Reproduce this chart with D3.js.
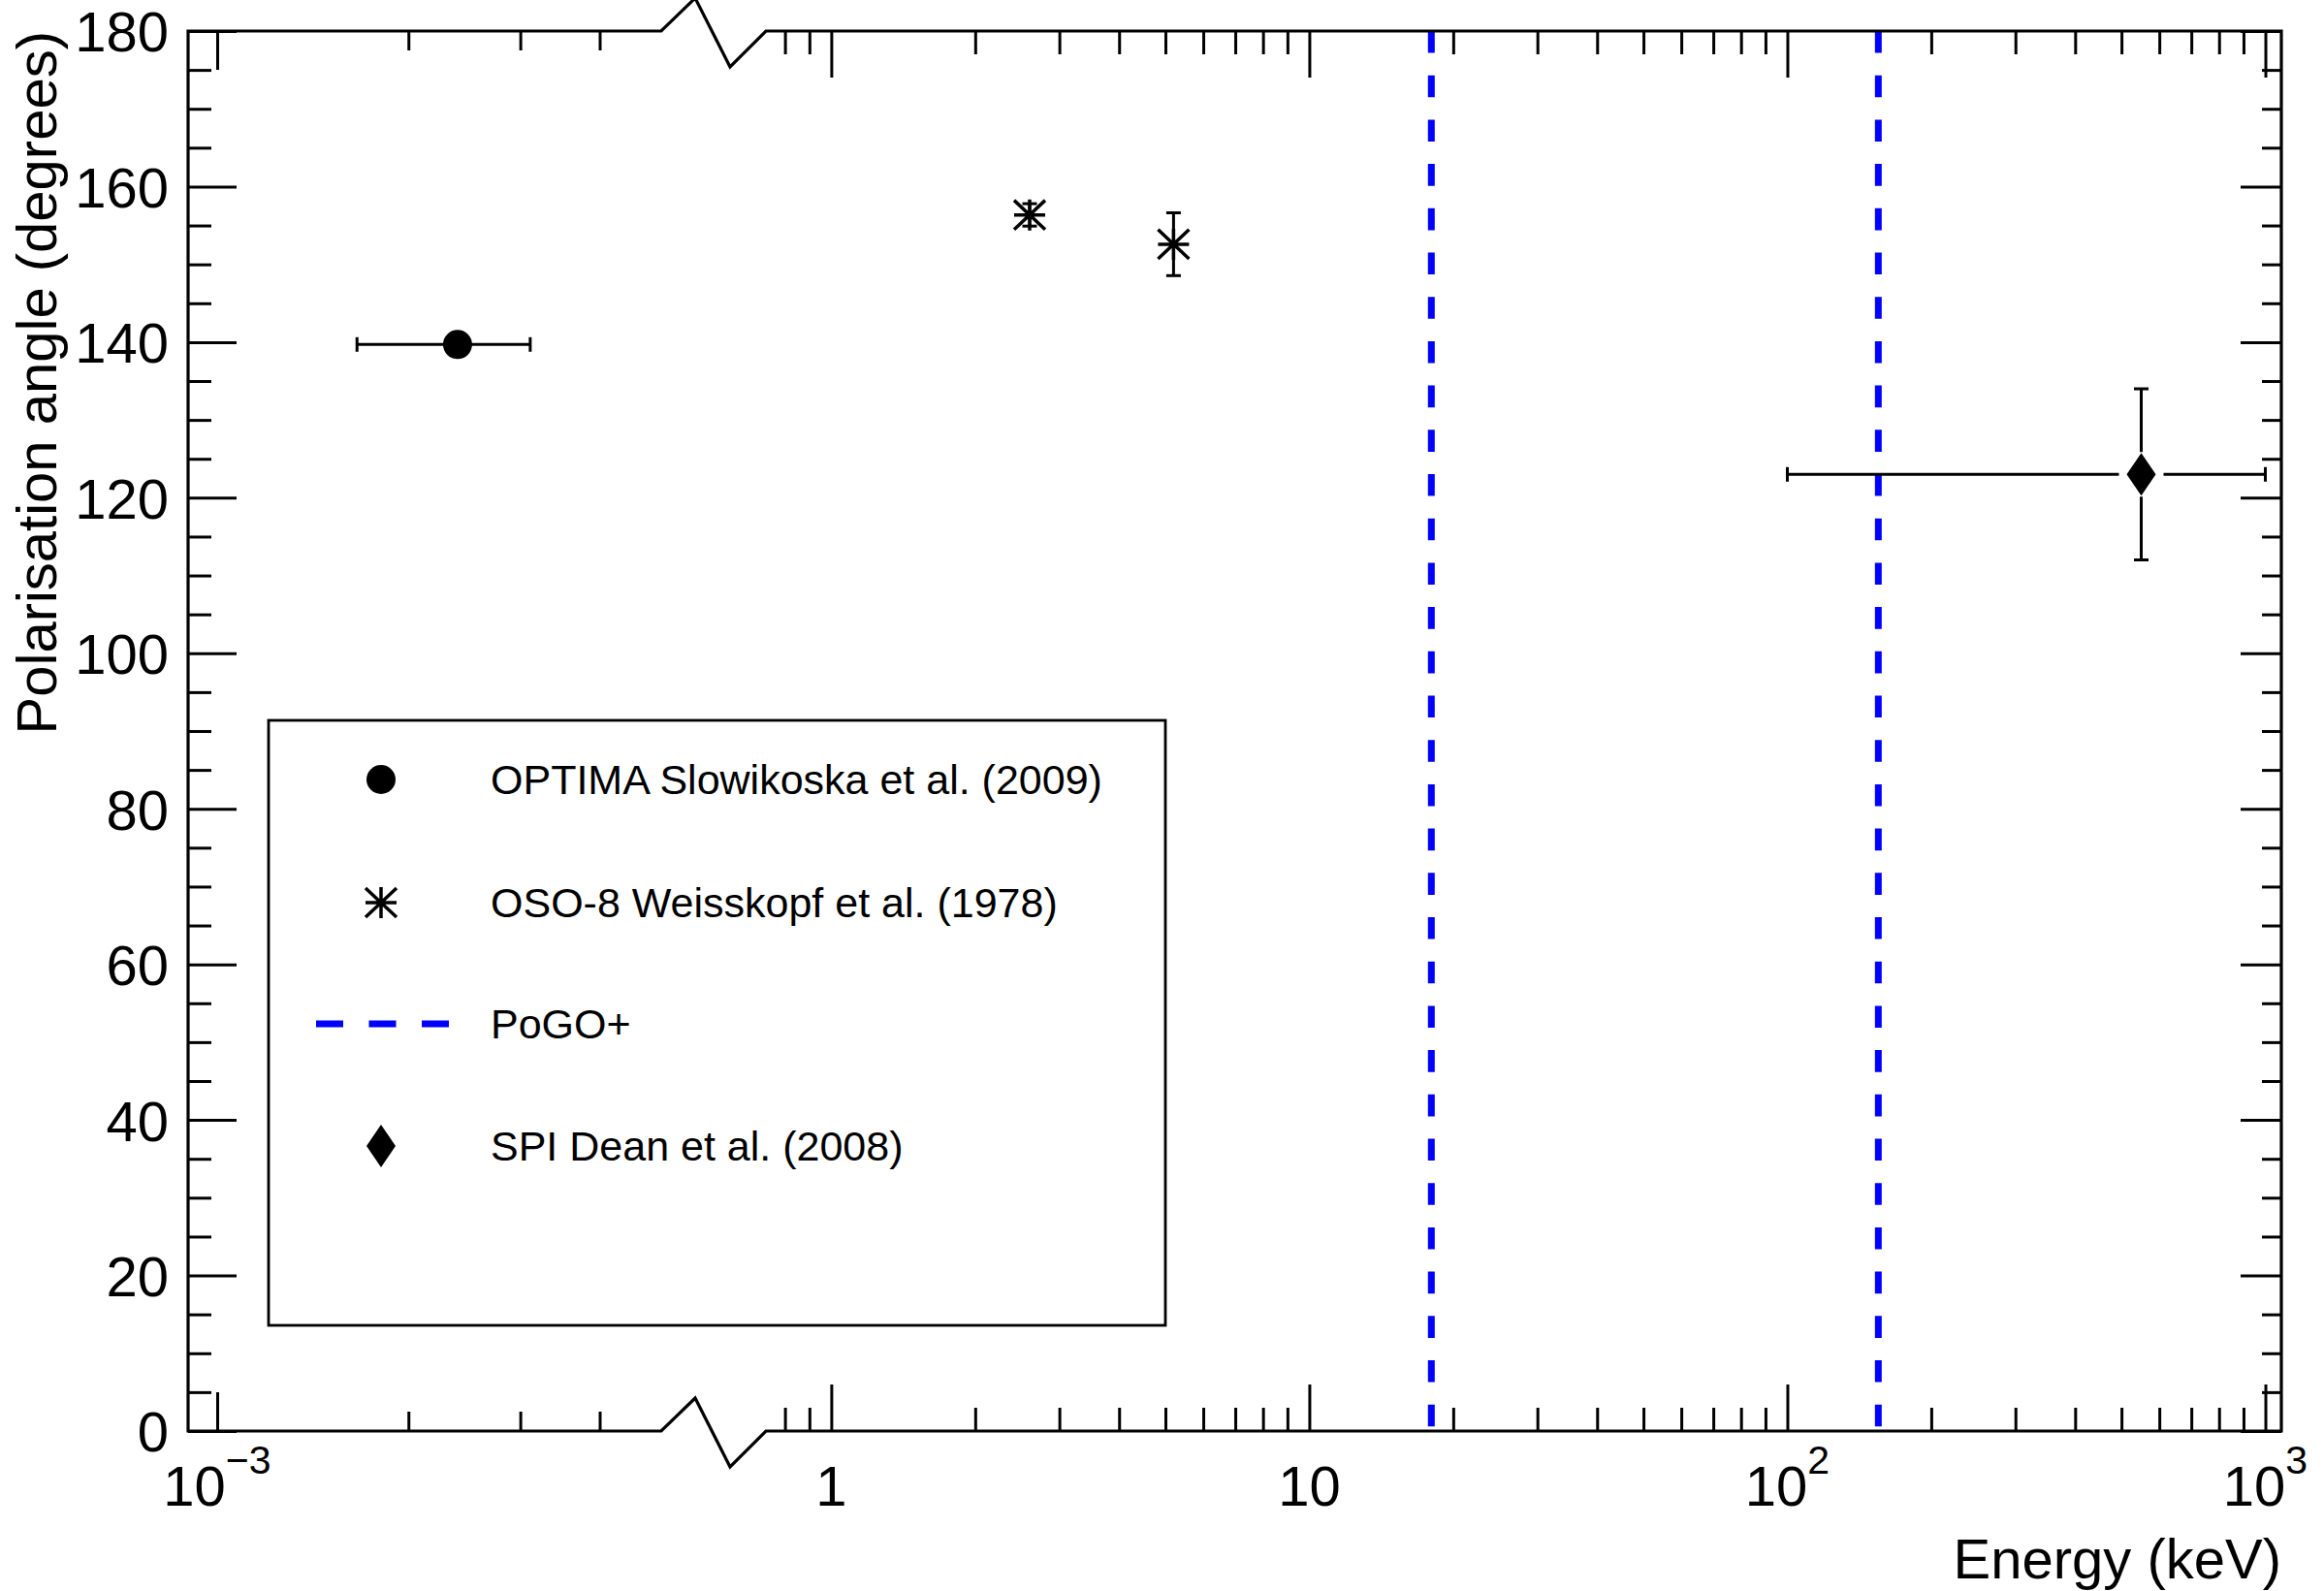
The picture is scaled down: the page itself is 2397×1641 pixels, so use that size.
<!DOCTYPE html>
<html>
<head>
<meta charset="utf-8">
<script src="https://cdn.jsdelivr.net/npm/d3@7"></script>
<style>
  body { margin: 0; background: #fff; }
  svg { display: block; }
  text { font-family: "Liberation Sans", Arial, Helvetica, sans-serif; fill: #000; }
</style>
</head>
<body>
<svg id="chart" width="2397" height="1641"></svg>
<script>
// ---- measurements (energy in keV, angle in degrees) ----
const optimaEnergy = [0.00239];
const optimaEnergyLow = [0.00166];
const optimaEnergyHigh = [0.00311];
const optimaAngle = [139.7];

const oso8Energy = [2.6, 5.2];
const oso8Angle = [156.36, 152.59];
const oso8AngleErr = [1.44, 4.04];

const spiEnergy = [550];
const spiEnergyLow = [100];
const spiEnergyHigh = [1000];
const spiAngle = [123];
const spiAngleErr = [11];

const pogoEnergyBounds = [18, 155];

const legendLabels = [
  "OPTIMA Slowikoska et al. (2009)",
  "OSO-8 Weisskopf et al. (1978)",
  "PoGO+",
  "SPI Dean et al. (2008)"
];

// ---- axis ticks ----
const yMajorTicks = [0, 20, 40, 60, 80, 100, 120, 140, 160, 180];
const yMinorTicks = d3.range(0, 181, 5).filter(v => v % 20 !== 0);
const xLowMajorTicks = [1e-3];
const xLowMinorTicks = [2e-3, 3e-3, 4e-3];
const xHighMajorTicks = [1, 10, 100, 1000];
const xHighMinorTicks = [0.8, 0.9, 2, 3, 4, 5, 6, 7, 8, 9, 20, 30, 40, 50, 60, 70, 80, 90,
                         200, 300, 400, 500, 600, 700, 800, 900];
const xLowTickLabels = [["10", "\u22123"]];
const xHighTickLabels = [["1", ""], ["10", ""], ["10", "2"], ["10", "3"]];

// ---- layout ----
const L = 194, R = 2353, T = 32, B = 1476;
const breakL = 682, breakR = 790;

const svg = d3.select("#chart");

// broken logarithmic energy axis: optical segment + X/gamma-ray segment
const xLow = d3.scaleLog().domain([9e-4, 5e-3]).range([L, breakL]);
const xHigh = d3.scaleLog().domain([0.73, 1080]).range([breakR, R]);
const x = e => (e < 0.1 ? xLow(e) : xHigh(e));
const y = d3.scaleLinear().domain([0, 180]).range([B, T]);

function styleTicks(g) {
  g.select(".domain").remove();
  g.selectAll(".tick line").attr("stroke", "#000").attr("stroke-width", 3);
  g.attr("font-family", null).attr("font-size", null);
}

function addAxis(axis, tx, ty) {
  const g = svg.append("g").attr("transform", `translate(${tx},${ty})`).call(axis);
  styleTicks(g);
  return g;
}

// ---- PoGO+ energy band ----
svg.append("g").selectAll("line").data(pogoEnergyBounds).join("line")
  .attr("x1", d => x(d)).attr("x2", d => x(d))
  .attr("y1", T).attr("y2", B)
  .attr("stroke", "#0000ff").attr("stroke-width", 7)
  .attr("stroke-dasharray", "22.6 23.1");

// ---- ticks ----
// bottom
addAxis(d3.axisBottom(xLow).tickValues(xLowMajorTicks).tickSize(-40).tickFormat(""), 0, B);
addAxis(d3.axisBottom(xLow).tickValues(xLowMinorTicks).tickSize(-20).tickFormat(""), 0, B);
addAxis(d3.axisBottom(xHigh).tickValues(xHighMajorTicks).tickSize(-48).tickFormat(""), 0, B);
addAxis(d3.axisBottom(xHigh).tickValues(xHighMinorTicks).tickSize(-24).tickFormat(""), 0, B);
// top
addAxis(d3.axisTop(xLow).tickValues(xLowMajorTicks).tickSize(-40).tickFormat(""), 0, T);
addAxis(d3.axisTop(xLow).tickValues(xLowMinorTicks).tickSize(-20).tickFormat(""), 0, T);
addAxis(d3.axisTop(xHigh).tickValues(xHighMajorTicks).tickSize(-48).tickFormat(""), 0, T);
addAxis(d3.axisTop(xHigh).tickValues(xHighMinorTicks).tickSize(-24).tickFormat(""), 0, T);
// left (with labels)
const yAxisG = addAxis(d3.axisLeft(y).tickValues(yMajorTicks).tickSize(-50).tickPadding(20)
  .tickFormat(d3.format("d")), L, 0);
yAxisG.selectAll(".tick text").attr("font-size", 58).attr("dy", "0.36em");
addAxis(d3.axisLeft(y).tickValues(yMinorTicks).tickSize(-24).tickFormat(""), L, 0);
// right
addAxis(d3.axisRight(y).tickValues(yMajorTicks).tickSize(-42).tickFormat(""), R, 0);
addAxis(d3.axisRight(y).tickValues(yMinorTicks).tickSize(-20).tickFormat(""), R, 0);

// ---- x tick labels with exponents ----
function tickLabel(px, parts) {
  const t = svg.append("text")
    .attr("x", px).attr("y", 1553)
    .attr("text-anchor", "middle")
    .attr("font-size", 58);
  t.append("tspan").text(parts[0]);
  if (parts[1]) {
    t.append("tspan").attr("dy", -33).attr("font-size", 41).text(parts[1]);
  }
}
xLowMajorTicks.forEach((v, i) => tickLabel(xLow(v), xLowTickLabels[i]));
xHighMajorTicks.forEach((v, i) => tickLabel(xHigh(v), xHighTickLabels[i]));

// ---- frame with axis break ----
const frame = d3.path();
frame.moveTo(L, T); frame.lineTo(L, B);
frame.moveTo(R, T); frame.lineTo(R, B);
frame.moveTo(L, B); frame.lineTo(breakL, B);
frame.lineTo(717, B - 34); frame.lineTo(753, B + 37); frame.lineTo(breakR, B); frame.lineTo(R, B);
frame.moveTo(L, T); frame.lineTo(breakL, T);
frame.lineTo(717, T - 34); frame.lineTo(753, T + 37); frame.lineTo(breakR, T); frame.lineTo(R, T);
svg.append("path").attr("d", frame.toString())
  .attr("fill", "none").attr("stroke", "#000").attr("stroke-width", 3.2)
  .attr("stroke-linejoin", "miter").attr("stroke-linecap", "square");

// ---- axis titles ----
svg.append("text")
  .attr("x", R).attr("y", 1628)
  .attr("text-anchor", "end").attr("font-size", 58)
  .text("Energy (keV)");
svg.append("text")
  .attr("transform", `translate(58,${T}) rotate(-90)`)
  .attr("text-anchor", "end").attr("font-size", 58)
  .text("Polarisation angle (degrees)");

// ---- marker helpers ----
const CAP = 7.5;
const ERR_W = 3;

function asterisk(g, cx, cy, s) {
  const p = d3.path();
  p.moveTo(cx - s, cy); p.lineTo(cx + s, cy);
  p.moveTo(cx, cy - s); p.lineTo(cx, cy + s);
  p.moveTo(cx - s, cy - s * 0.94); p.lineTo(cx + s, cy + s * 0.94);
  p.moveTo(cx - s, cy + s * 0.94); p.lineTo(cx + s, cy - s * 0.94);
  g.append("path").attr("d", p.toString()).attr("fill", "none")
    .attr("stroke", "#000").attr("stroke-width", 3.5);
}
function diamond(g, cx, cy, hw, hh) {
  g.append("path")
    .attr("d", `M${cx},${cy - hh}L${cx + hw},${cy}L${cx},${cy + hh}L${cx - hw},${cy}Z`)
    .attr("fill", "#000");
}
function segment(g, x1, y1, x2, y2) {
  g.append("line").attr("x1", x1).attr("y1", y1).attr("x2", x2).attr("y2", y2)
    .attr("stroke", "#000").attr("stroke-width", ERR_W);
}
function hCaps(g, xa, xb, yy) {
  segment(g, xa, yy - CAP, xa, yy + CAP);
  segment(g, xb, yy - CAP, xb, yy + CAP);
}
function vCaps(g, xx, ya, yb) {
  segment(g, xx - CAP, ya, xx + CAP, ya);
  segment(g, xx - CAP, yb, xx + CAP, yb);
}

const marks = svg.append("g");

// OPTIMA (optical)
optimaEnergy.forEach((e, i) => {
  const cx = x(e), cy = y(optimaAngle[i]);
  const xa = x(optimaEnergyLow[i]), xb = x(optimaEnergyHigh[i]);
  segment(marks, xa, cy, xb, cy);
  hCaps(marks, xa, xb, cy);
  marks.append("circle").attr("cx", cx).attr("cy", cy).attr("r", 15).attr("fill", "#000");
});

// OSO-8
oso8Energy.forEach((e, i) => {
  const cx = x(e), cy = y(oso8Angle[i]);
  const ya = y(oso8Angle[i] + oso8AngleErr[i]), yb = y(oso8Angle[i] - oso8AngleErr[i]);
  segment(marks, cx, ya, cx, yb);
  vCaps(marks, cx, ya, yb);
  asterisk(marks, cx, cy, 16);
});

// INTEGRAL SPI
spiEnergy.forEach((e, i) => {
  const cx = x(e), cy = y(spiAngle[i]);
  const xa = x(spiEnergyLow[i]), xb = x(spiEnergyHigh[i]);
  const ya = y(spiAngle[i] + spiAngleErr[i]), yb = y(spiAngle[i] - spiAngleErr[i]);
  const gap = 23;
  segment(marks, xa, cy, cx - gap, cy);
  segment(marks, cx + gap, cy, xb, cy);
  hCaps(marks, xa, xb, cy);
  segment(marks, cx, ya, cx, cy - gap);
  segment(marks, cx, cy + gap, cx, yb);
  vCaps(marks, cx, ya, yb);
  diamond(marks, cx, cy, 15, 22);
});

// ---- legend ----
const legend = svg.append("g");
legend.append("rect")
  .attr("x", 277).attr("y", 743).attr("width", 925).attr("height", 624)
  .attr("fill", "#fff").attr("stroke", "#000").attr("stroke-width", 2.8);

const rowY = [804, 931, 1056, 1182];
const mx = 393;
legend.append("circle").attr("cx", mx).attr("cy", rowY[0]).attr("r", 15).attr("fill", "#000");
asterisk(legend, mx, rowY[1], 16);
legend.append("line")
  .attr("x1", 326).attr("x2", 463).attr("y1", rowY[2]).attr("y2", rowY[2])
  .attr("stroke", "#0000ff").attr("stroke-width", 7)
  .attr("stroke-dasharray", "28 26.5");
diamond(legend, mx, rowY[3], 15, 22);

legend.selectAll("text.entry").data(legendLabels).join("text")
  .attr("class", "entry")
  .attr("x", 506).attr("y", (d, i) => rowY[i])
  .attr("dy", "0.36em").attr("font-size", 43)
  .text(d => d);
</script>
</body>
</html>
